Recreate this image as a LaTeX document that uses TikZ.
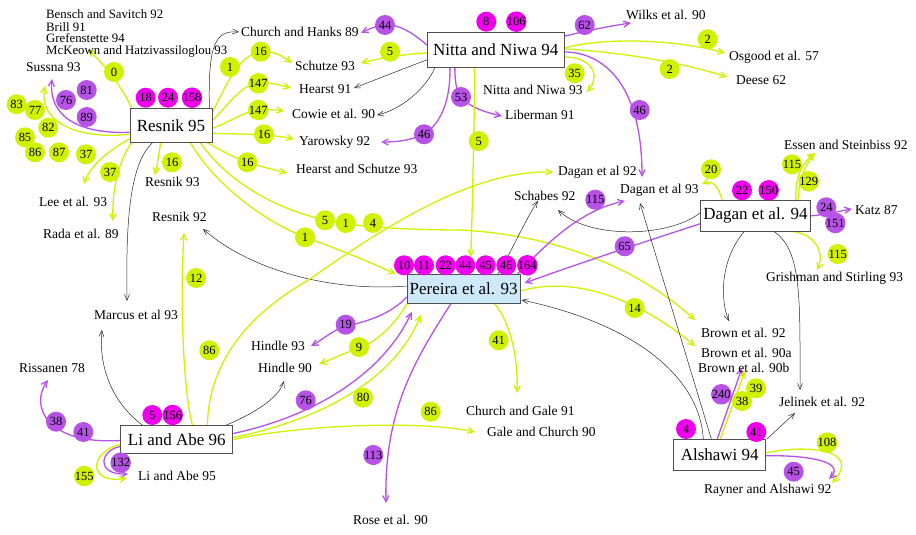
\documentclass[tikz,border=0pt]{standalone}
\usepackage{fontspec}
\setmainfont{Liberation Serif}
\usetikzlibrary{arrows.meta,calc}
\pgfdeclarelayer{edges}
\pgfsetlayers{edges,main}
\definecolor{yg}{RGB}{208,242,0}
\definecolor{pu}{RGB}{182,82,230}
\definecolor{mg}{RGB}{238,0,238}
\definecolor{lightblue}{RGB}{206,234,250}
\definecolor{bx}{RGB}{80,80,80}
\tikzset{
  ylink/.style={draw=yg, line width=1.3pt, -{Straight Barb[length=6pt,width=6pt]}},
  plink/.style={draw=pu, line width=1.3pt, -{Straight Barb[length=6pt,width=6pt]}},
  klink/.style={draw=black!85, line width=0.5pt, -{Straight Barb[length=6pt,width=5pt]}},
  paper/.style={draw=bx, line width=0.8pt, fill=white, inner sep=0pt, font=\fontsize{17}{20}\selectfont},
  lab/.style={anchor=west, inner sep=0pt, font=\fontsize{13.5}{16}\selectfont},
  tightlab/.style={lab, font=\fontsize{12.8}{14}\selectfont},
  badge/.style={circle, inner sep=0pt, minimum size=20pt, font=\fontsize{12.5}{14}\selectfont},
  ybad/.style={badge, fill=yg},
  pbad/.style={badge, fill=pu},
  mbad/.style={badge, fill=mg},
}
\begin{document}
\begin{tikzpicture}[x=1pt,y=-1pt]
\useasboundingbox (0,0) rectangle (916,535);
% main papers
\node[paper, minimum width=82pt, minimum height=34pt] (resnik) at (171,125.3) {Resnik 95};
\node[paper, minimum width=137pt, minimum height=35pt] (nitta) at (495.75,50) {Nitta and Niwa 94};
\node[paper, minimum width=110pt, minimum height=31pt] (dagan) at (755.5,215.8) {Dagan et al. 94};
\node[paper, fill=lightblue, minimum width=113pt, minimum height=29pt] (pereira) at (463.65,289) {Pereira et al. 93};
\node[paper, minimum width=112pt, minimum height=28pt] (liabe) at (176.85,439.5) {Li and Abe 96};
\node[paper, minimum width=92pt, minimum height=31pt] (alshawi) at (719.7,454.8) {Alshawi 94};
% cited labels
\node[tightlab] (bensch) at (46,14) {Bensch and Savitch 92};
\node[tightlab] (brill) at (46,27) {Brill 91};
\node[tightlab] (gref) at (46,38.5) {Grefenstette 94};
\node[tightlab] (mckeown) at (46,51.5) {McKeown and Hatzivassiloglou 93};
\node[lab] (sussna) at (26,67) {Sussna 93};
\node[lab] (chhanks) at (241,32) {Church and Hanks 89};
\node[lab] (schutze) at (295,66) {Schutze 93};
\node[lab] (hearst) at (299,89) {Hearst 91};
\node[lab] (cowie) at (292,114) {Cowie et al. 90};
\node[lab] (yarowsky) at (299,142) {Yarowsky 92};
\node[lab] (hsch) at (296,169) {Hearst and Schutze 93};
\node[lab] (nn93) at (483,90) {Nitta and Niwa 93};
\node[lab] (liberman) at (505,115) {Liberman 91};
\node[lab] (dagan92) at (558,172) {Dagan et al 92};
\node[lab] (wilks) at (626,15) {Wilks et al. 90};
\node[lab] (osgood) at (729,57) {Osgood et al. 57};
\node[lab] (deese) at (736,80) {Deese 62};
\node[lab] (essen) at (784,145) {Essen and Steinbiss 92};
\node[lab] (katz) at (855,210) {Katz 87};
\node[lab] (grishman) at (766,278) {Grishman and Stirling 93};
\node[lab] (brown92) at (701,333) {Brown et al. 92};
\node[lab] (brown90a) at (701,353) {Brown et al. 90a};
\node[lab] (brown90b) at (698,368) {Brown et al. 90b};
\node[lab] (jelinek) at (779,402) {Jelinek et al. 92};
\node[lab] (rayner) at (704,490) {Rayner and Alshawi 92};
\node[lab] (schabes) at (514,196) {Schabes 92};
\node[lab] (dagan93) at (620,190) {Dagan et al 93};
\node[lab] (resnik93) at (145,182) {Resnik 93};
\node[lab] (resnik92) at (152,217) {Resnik 92};
\node[lab] (lee) at (39,202) {Lee et al. 93};
\node[lab] (rada) at (43,234) {Rada et al. 89};
\node[lab] (marcus) at (94,315) {Marcus et al 93};
\node[lab] (hindle93) at (251,346) {Hindle 93};
\node[lab] (hindle90) at (258,368) {Hindle 90};
\node[lab] (rissanen) at (19,368) {Rissanen 78};
\node[lab] (liabe95) at (138,476) {Li and Abe 95};
\node[lab] (chgale) at (466,411) {Church and Gale 91};
\node[lab] (galech) at (487,432) {Gale and Church 90};
\node[lab] (rose) at (353,520) {Rose et al. 90};

\begin{pgfonlayer}{edges}
% Resnik 95
\draw[ylink] ($(resnik.north west)+(2,0)$) .. controls (124,90) and (104,64) .. ($(mckeown.west)+(42,-2)$);
\draw[plink] ($(resnik.west)+(0,7)$) .. controls (88,134) and (48,122) .. ($(sussna.west)+(26,12)$);
\draw[ylink] ($(resnik.west)+(0,9)$) .. controls (78,140) and (38,122) .. ($(sussna.west)+(19,19)$);
\draw[ylink] ($(resnik.south west)+(0,-4)$) .. controls (110,150) and (90,165) .. ($(lee.west)+(45,-18)$);
\draw[ylink] ($(resnik.south west)+(2,0)$) .. controls (118,162) and (112,190) .. ($(rada.west)+(70,-13)$);
\draw[klink] ($(resnik.south west)+(23,0)$) .. controls (128,165) and (126,230) .. ($(marcus.west)+(33,-14)$);
\draw[ylink] ($(resnik.south west)+(31,0)$) .. controls (159,155) and (157,165) .. ($(resnik93.west)+(10,-7)$);
\draw[klink] ($(resnik.north east)+(-3,0)$) .. controls (208,45) and (215,30) .. ($(chhanks.west)+(-2,0)$);
\draw[ylink] ($(resnik.east)+(0,-13)$) .. controls (225,88) and (238,55) .. (260,52) .. controls (274,50) and (284,57) .. ($(schutze.west)+(-3,-3)$);
\draw[ylink] ($(resnik.east)+(0,-5)$) .. controls (226,108) and (240,85) .. (258,83) .. controls (270,82) and (280,85) .. ($(hearst.west)+(-8,-1)$);
\draw[ylink] ($(resnik.east)+(0,3)$) .. controls (230,122) and (245,111) .. (258,110) .. controls (268,109) and (276,110) .. ($(cowie.west)+(-8,-3)$);
\draw[ylink] ($(resnik.east)+(0,8)$) .. controls (235,134) and (250,134) .. (264,135) .. controls (276,136) and (285,137) .. ($(yarowsky.west)+(-5,-3)$);
\draw[ylink] ($(resnik.south east)+(-5,0)$) .. controls (220,150) and (235,158) .. (247,162) .. controls (262,167) and (275,170) .. ($(hsch.west)+(-9,4)$);
\draw[ylink] ($(resnik.south east)+(-12,0)$) .. controls (230,185) and (280,210) .. (325,220) .. controls (360,228) and (420,230) .. (460,230) .. controls (560,235) and (640,270) .. ($(brown92.west)+(-6,-13)$);
\draw[ylink] ($(resnik.south east)+(-22,0)$) .. controls (215,185) and (265,222) .. (305,237) .. controls (340,250) and (370,262) .. ($(pereira.north west)+(-11,0)$);
% Nitta and Niwa 94
\draw[plink] ($(nitta.west)+(0,-5)$) .. controls (412,32) and (398,24) .. (385,25) .. controls (375,26) and (367,30) .. ($(chhanks.west)+(120,1)$);
\draw[ylink] ($(nitta.west)+(0,3)$) .. controls (405,54) and (380,58) .. ($(schutze.west)+(66,-3)$);
\draw[klink] ($(nitta.south west)+(0,-8)$) .. controls (400,70) and (375,80) .. ($(hearst.west)+(55,-1)$);
\draw[klink] ($(nitta.south west)+(8,0)$) .. controls (425,90) and (400,110) .. ($(cowie.west)+(85,1)$);
\draw[plink] ($(nitta.south west)+(23,0)$) .. controls (451,100) and (440,125) .. (424,134) .. controls (410,141) and (395,142) .. ($(yarowsky.west)+(82,0)$);
\draw[plink] ($(nitta.south west)+(28,0)$) .. controls (455,85) and (457,92) .. (461,97) .. controls (470,108) and (488,113) .. ($(liberman.west)+(-3,1)$);
\draw[ylink] ($(nitta.south west)+(48,0)$) .. controls (474,140) and (472,220) .. ($(pereira.north west)+(64,-17)$);
\draw[plink] ($(nitta.north east)+(0,4)$) .. controls (590,30) and (610,26) .. ($(wilks.west)+(5,8)$);
\draw[ylink] ($(nitta.east)+(0,-2)$) .. controls (600,38) and (670,38) .. ($(osgood.west)+(-4,-4)$);
\draw[ylink] ($(nitta.east)+(0,-1)$) .. controls (620,52) and (680,62) .. ($(deese.west)+(-9,-3)$);
\draw[ylink] ($(nitta.east)+(0,7)$) .. controls (590,57) and (602,74) .. ($(nn93.west)+(104,2)$);
\draw[plink] ($(nitta.east)+(0,2)$) .. controls (600,52) and (642,80) .. ($(dagan93.west)+(22,-13)$);
% Dagan et al. 94
\draw[ylink] ($(dagan.north west)+(22,0)$) .. controls (718,185) and (712,180) .. ($(dagan93.west)+(82,-6)$);
\draw[ylink] ($(dagan.north east)+(-15,0)$) .. controls (795,180) and (800,165) .. ($(essen.west)+(31,8)$);
\draw[ylink] ($(dagan.north east)+(-13,0)$) .. controls (799,182) and (804,166) .. ($(essen.west)+(31,8)$);
\draw[plink] (dagan.east) .. controls (825,215) and (840,211) .. ($(katz.west)+(-3,-1)$);
\draw[ylink] ($(dagan.south east)+(-17,0)$) .. controls (812,234) and (826,250) .. ($(grishman.west)+(51,-8)$);
\draw[klink] ($(dagan.south west)+(44,0)$) .. controls (720,260) and (720,300) .. ($(brown92.west)+(28,-12)$);
\draw[klink] ($(dagan.south west)+(74,0)$) .. controls (802,250) and (800,300) .. ($(jelinek.west)+(21,-12)$);
\draw[klink] ($(dagan.west)+(0,-3)$) .. controls (670,237) and (590,240) .. ($(schabes.west)+(44,14)$);
\draw[plink] ($(dagan.west)+(0,8)$) .. controls (650,240) and (580,263) .. ($(pereira.east)+(4,-6)$);
% Pereira et al. 93
\draw[plink] ($(pereira.north east)+(-3,0)$) .. controls (545,245) and (580,210) .. ($(dagan93.west)+(5,11)$);
\draw[klink] ($(pereira.north west)+(91,0)$) .. controls (510,255) and (525,220) .. ($(schabes.west)+(24,5)$);
\draw[klink] ($(pereira.west)+(0,-3)$) .. controls (330,292) and (250,270) .. ($(resnik92.west)+(51,12)$);
\draw[ylink] ($(pereira.east)+(0,2)$) .. controls (575,275) and (640,300) .. ($(brown90a.west)+(-6,-7)$);
\draw[ylink] ($(pereira.south west)+(88,0)$) .. controls (512,325) and (518,360) .. ($(chgale.west)+(51,-18)$);
\draw[plink] ($(pereira.south west)+(44,0)$) .. controls (415,360) and (384,410) .. ($(rose.west)+(33,-17)$);
\draw[plink] ($(pereira.west)+(0,8)$) .. controls (390,315) and (365,322) .. (346,326) .. controls (333,330) and (322,340) .. ($(hindle93.west)+(60,0)$);
\draw[ylink] (pereira.south west) .. controls (395,325) and (375,343) .. (359,348) .. controls (345,353) and (330,360) .. ($(hindle90.west)+(61,-4)$);
% Li and Abe 96
\draw[ylink] ($(liabe.north west)+(72,0)$) .. controls (183,390) and (180,300) .. ($(resnik92.west)+(32,16)$);
\draw[ylink] ($(liabe.north west)+(87,0)$) .. controls (208,380) and (230,325) .. (307,281) .. controls (380,230) and (470,170) .. ($(dagan92.west)+(-5,0)$);
\draw[klink] ($(liabe.north west)+(22,0)$) .. controls (115,405) and (98,370) .. ($(marcus.west)+(8,15)$);
\draw[plink] ($(liabe.west)+(0,1)$) .. controls (45,445) and (30,405) .. ($(rissanen.west)+(29,12)$);
\draw[plink] ($(liabe.west)+(0,7)$) .. controls (100,450) and (95,475) .. ($(liabe95.west)+(-10,-2)$);
\draw[ylink] ($(liabe.west)+(0,5)$) .. controls (88,452) and (88,485) .. ($(liabe95.west)+(-11,2)$);
\draw[klink] ($(liabe.north east)+(-7,0)$) .. controls (250,415) and (278,400) .. ($(hindle90.west)+(26,13)$);
\draw[plink] ($(liabe.east)+(0,-6)$) .. controls (320,415) and (385,370) .. ($(pereira.south west)+(5,8)$);
\draw[ylink] ($(liabe.east)+(0,-2)$) .. controls (320,420) and (395,380) .. ($(pereira.south west)+(14,11)$);
\draw[ylink] (liabe.east) .. controls (300,425) and (420,420) .. ($(galech.west)+(-12,0)$);
% Alshawi 94
\draw[klink] ($(alshawi.north west)+(30,0)$) .. controls (700,380) and (640,325) .. ($(pereira.east)+(1,11)$);
\draw[klink] ($(alshawi.north west)+(38,0)$) -- ($(dagan93.west)+(20,13)$);
\draw[plink] ($(alshawi.north west)+(44,0)$) -- ($(brown90b.west)+(44,0)$);
\draw[ylink] ($(alshawi.north west)+(47,0)$) -- ($(brown90b.west)+(47,3)$);
\draw[klink] ($(alshawi.north east)+(1,0)$) -- ($(jelinek.west)+(16,11)$);
\draw[ylink] ($(alshawi.east)+(0,-2)$) .. controls (810,444) and (862,450) .. ($(rayner.west)+(128,-7)$);
\draw[plink] ($(alshawi.east)+(0,1)$) .. controls (800,455) and (848,460) .. ($(rayner.west)+(125,-11)$);
\end{pgfonlayer}

% badges
\foreach \x/\y/\t [count=\i] in {114/72/0, 16.7/104.3/83, 35/110/77, 48.3/127.7/82, 25/137.3/85, 35/152.3/86, 59/152.3/87, 86/154.3/37, 110/172/37, 172/162.3/16, 230/67/1, 260.7/51.7/16, 258.3/83.3/147, 258.3/110/147, 264/134.3/16, 247.3/162.3/16, 390/51.7/5, 574.7/73.3/35, 669.7/69/2, 707.7/39.3/2, 478.7/141/5, 711/169.3/20, 792/164.3/115, 808.7/181.3/129, 837.7/254/115, 634.7/308/14, 498.7/340.3/41, 325/220.3/5, 345.7/223/1, 373/223/4, 305/237.3/1, 196/278/12, 209.3/350.3/86, 359/347/9, 363/397.7/80, 430.7/411.7/86, 84.3/476/155, 756/388.3/39, 742/401/38, 827/442.7/108}
  \node[ybad] (yb\i) at (\x,\y) {\t};
\foreach \x/\y/\t [count=\i] in {86.7/90/81, 66/100/76, 86.7/117/89, 385/25/44, 424/134.3/46, 461/97/53, 584.7/25/62, 639.7/110/46, 595.3/199.7/115, 624.7/246.3/65, 826.3/207.3/24, 835.3/223/151, 345.7/324.7/19, 305.7/400.3/76, 373.3/455/113, 56/421.7/38, 83.3/432/41, 120.7/462.7/132, 721.3/394.3/240, 793.7/471.7/45}
  \node[pbad] (pb\i) at (\x,\y) {\t};
\foreach \x/\y/\t [count=\i] in {145.7/97.7/18, 168/97.7/24, 192/97.7/158, 486.3/21.7/8, 516.3/21.7/106, 742/190.3/22, 768.7/190.3/150, 404/265.3/10, 424/265.3/11, 445.7/265.3/22, 465.3/265.3/44, 485.7/265.3/45, 506.3/265.3/46, 527.3/265.3/164, 152.3/415/5, 172.7/415/156, 686/429/4, 756.3/432/41}
  \node[mbad] (mb\i) at (\x,\y) {\t};
\end{tikzpicture}
\end{document}
